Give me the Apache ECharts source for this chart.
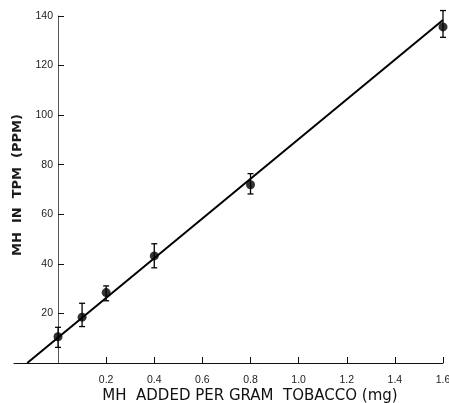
<!DOCTYPE html>
<html>
<head>
<meta charset="utf-8">
<script src="https://cdn.jsdelivr.net/npm/echarts@6/dist/echarts.min.js"></script>
<style>html,body{margin:0;padding:0;background:#fff}#c{width:449px;height:403px}</style>
</head>
<body>
<div id="c"></div>
<script>
const xValues = [0, 0.1, 0.2, 0.4, 0.8, 1.6];
const yValues = [10.6, 18.5, 28.4, 43.2, 71.9, 135.6];
const errLow = [6.3, 14.7, 25.1, 38.4, 68.2, 131.4];
const errHigh = [14.4, 24.1, 31.1, 48.1, 76.4, 142.2];
const fitLineX = [-0.128, 1.6];
const fitLineY = [0, 138.4];
const xTickValues = [0.2, 0.4, 0.6, 0.8, 1.0, 1.2, 1.4, 1.6];
const yTickValues = [20, 40, 60, 80, 100, 120, 140];
const xTitle = 'MH  ADDED PER GRAM  TOBACCO (mg)';
const yTitle = 'MH  IN  TPM  (PPM)';

const xMin = -0.183, xMax = 1.6;
const gridLeft = 14, gridRight = 6, W = 449;
const gridW = W - gridLeft - gridRight;
const yAxisOffset = -gridW * (0 - xMin) / (xMax - xMin);

const font = 'Liberation Sans, Arial, sans-serif';
const titleFont = 'DejaVu Sans, sans-serif';
const chart = echarts.init(document.getElementById('c'));
chart.setOption({
  backgroundColor: '#fff',
  animation: false,
  grid: { left: gridLeft, right: gridRight, top: 16, bottom: 40, containLabel: false, outerBoundsMode: 'none' },
  graphic: [
    { type: 'text', x: 250, y: 396,
      style: { text: xTitle, fontFamily: titleFont, fontSize: 15, fill: '#111',
               textAlign: 'center', textVerticalAlign: 'middle' } },
    { type: 'text', x: 18, y: 185, rotation: Math.PI / 2,
      style: { text: yTitle, fontFamily: titleFont, fontSize: 13, fontWeight: 'bold', fill: '#1a1a1a',
               textAlign: 'center', textVerticalAlign: 'middle' } }
  ],
  xAxis: {
    type: 'value', min: xMin, max: xMax,
    axisLine: { onZero: false, lineStyle: { color: '#111', width: 1 } },
    axisTick: { inside: true, length: 6, customValues: xTickValues, lineStyle: { color: '#111' } },
    axisLabel: { customValues: xTickValues, margin: 12, fontFamily: font, fontSize: 10.5, color: '#222',
                 formatter: v => v.toFixed(1) },
    splitLine: { show: false }
  },
  yAxis: {
    type: 'value', min: 0, max: 140, position: 'left', offset: yAxisOffset,
    axisLine: { show: true, onZero: false, lineStyle: { color: '#555', width: 1 } },
    axisTick: { inside: true, length: 6, customValues: yTickValues, lineStyle: { color: '#111' } },
    axisLabel: { customValues: yTickValues, margin: 5, fontFamily: font, fontSize: 10.5, color: '#222' },
    splitLine: { show: false }
  },
  series: [
    {
      type: 'line',
      data: fitLineX.map((x, i) => [x, fitLineY[i]]),
      symbol: 'none',
      lineStyle: { color: '#000', width: 2 },
      z: 2
    },
    {
      type: 'custom',
      data: xValues.map((x, i) => [x, errLow[i], errHigh[i]]),
      renderItem: function (params, api) {
        const lo = api.coord([api.value(0), api.value(1)]);
        const hi = api.coord([api.value(0), api.value(2)]);
        const hw = 3;
        const st = { stroke: '#000', lineWidth: 1.3 };
        return {
          type: 'group',
          children: [
            { type: 'line', shape: { x1: lo[0], y1: lo[1], x2: hi[0], y2: hi[1] }, style: st },
            { type: 'line', shape: { x1: lo[0] - hw, y1: lo[1], x2: lo[0] + hw, y2: lo[1] }, style: st },
            { type: 'line', shape: { x1: hi[0] - hw, y1: hi[1], x2: hi[0] + hw, y2: hi[1] }, style: st }
          ]
        };
      },
      z: 3
    },
    {
      type: 'scatter',
      data: xValues.map((x, i) => [x, yValues[i]]),
      symbol: 'circle',
      symbolSize: 9,
      itemStyle: { color: '#000' },
      z: 4
    }
  ]
});
</script>
</body>
</html>
